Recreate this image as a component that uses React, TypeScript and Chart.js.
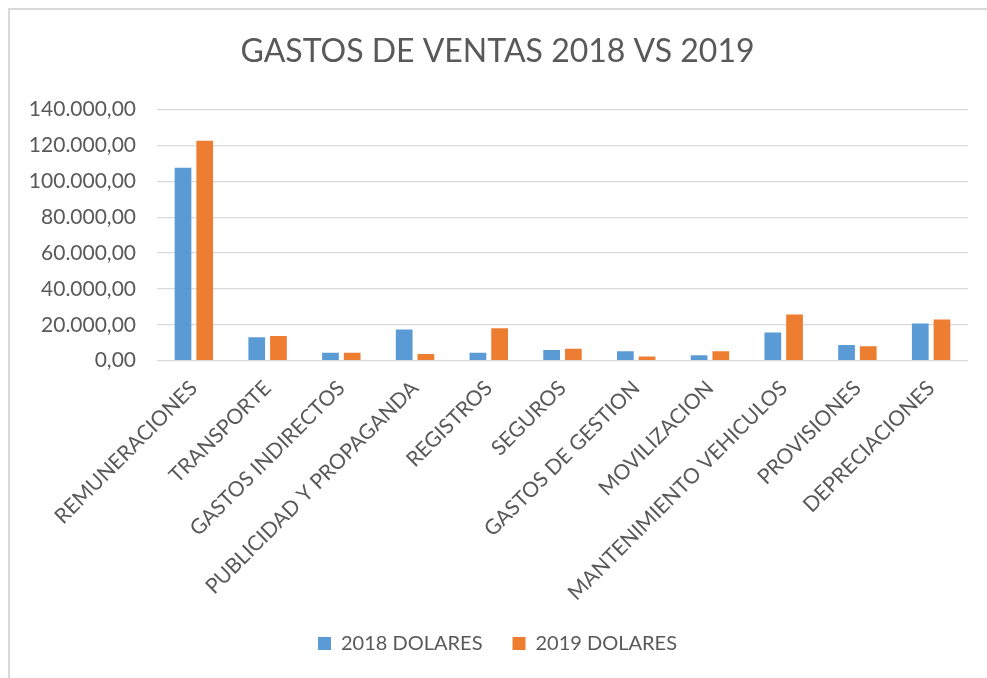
import React, { useEffect, useRef } from "react";
import { Chart, registerables } from "chart.js";

Chart.register(...registerables);

const categories = [
  "REMUNERACIONES",
  "TRANSPORTE",
  "GASTOS INDIRECTOS",
  "PUBLICIDAD Y PROPAGANDA",
  "REGISTROS",
  "SEGUROS",
  "GASTOS DE GESTION",
  "MOVILIZACION",
  "MANTENIMIENTO VEHICULOS",
  "PROVISIONES",
  "DEPRECIACIONES",
];
const values2018 = [107600, 13000, 4500, 17400, 4500, 5900, 5200, 3100, 15700, 8700, 20800];
const values2019 = [122600, 13700, 4500, 3700, 18100, 6700, 2400, 5200, 25700, 8000, 23000];
const seriesNames = ["2018 DOLARES", "2019 DOLARES"];
const titleText = "GASTOS DE VENTAS 2018 VS 2019";
const yMin = 0;
const yMax = 140000;
const yStep = 20000;

const FONT = "Lato";
const TEXT = "#595959";

function fmt(v: number): string {
  const int = Math.round(v).toString().replace(/\B(?=(\d{3})+(?!\d))/g, ".");
  return int + ",00";
}

export default function App() {
  const ref = useRef<HTMLCanvasElement>(null);
  useEffect(() => {
    if (!ref.current) return;
    const chart = new Chart(ref.current, {
      type: "bar",
      data: {
        labels: categories,
        datasets: [
          { label: seriesNames[0], data: values2018, backgroundColor: "#5B9BD5" },
          { label: seriesNames[1], data: values2019, backgroundColor: "#ED7D31" },
        ],
      },
      options: {
        animation: false,
        responsive: false,
        maintainAspectRatio: false,
        layout: { padding: { left: 17, right: 19, top: 0, bottom: 14.5 } },
        datasets: { bar: { categoryPercentage: 0.589, barPercentage: 0.77 } },
        plugins: {
          title: {
            display: true,
            text: titleText,
            color: TEXT,
            font: { family: FONT, size: 32, weight: "normal" },
            padding: { top: 22.8, bottom: 38.3 },
          },
          legend: {
            position: "bottom",
            labels: {
              color: TEXT,
              font: { family: FONT, size: 20 },
              boxWidth: 13,
              boxHeight: 13,
              padding: 30,
            },
          },
          tooltip: { enabled: false },
        },
        scales: {
          x: {
            grid: { display: false, drawTicks: false },
            border: { display: false },
            ticks: {
              color: TEXT,
              font: { family: FONT, size: 21 },
              minRotation: 45,
              maxRotation: 45,
              autoSkip: false,
              padding: 15,
            },
            afterFit: (s: any) => {
              s.height = 242.8;
            },
          },
          y: {
            min: yMin,
            max: yMax,
            grid: { color: "#d9d9d9", lineWidth: 1.3, drawTicks: false },
            border: { display: false },
            ticks: {
              stepSize: yStep,
              color: TEXT,
              font: { family: FONT, size: 21 },
              padding: 21,
              callback: (v: any) => fmt(Number(v)),
            },
            afterFit: (s: any) => {
              s.width = 130;
            },
          },
        },
      },
    });
    return () => chart.destroy();
  }, []);
  return (
    <div
      style={{
        position: "fixed",
        left: 8,
        top: 8,
        width: 979,
        height: 670,
        boxSizing: "border-box",
        borderTop: "2px solid #d9d9d9",
        borderLeft: "2px solid #d9d9d9",
        background: "#fff",
      }}
    >
      <canvas ref={ref} width={977} height={668} style={{ display: "block" }} />
    </div>
  );
}
